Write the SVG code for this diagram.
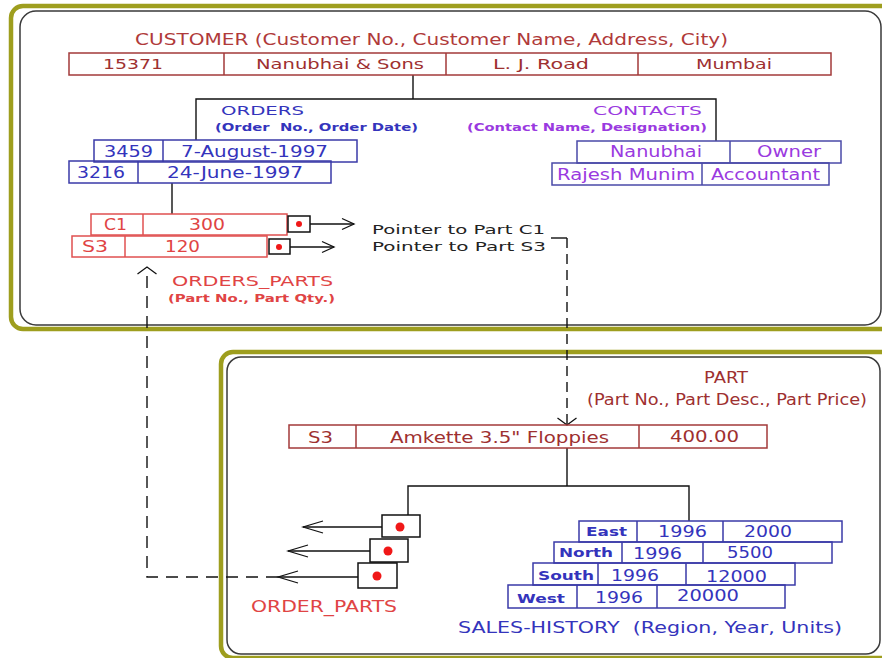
<svg xmlns="http://www.w3.org/2000/svg" width="882" height="658" viewBox="0 0 882 658">
  <style>
    text { font-family: "DejaVu Sans", Verdana, sans-serif; white-space: pre; }
    .olive { fill: none; stroke: #9e9e1e; stroke-width: 4.5; }
    .frame { fill: none; stroke: #3a3a3a; stroke-width: 1.5; }
    .cell { fill: none; stroke-width: 1.5; }
    .brown { stroke: #a33a3a; }
    .blue { stroke: #3a3aa8; }
    .violet { stroke: #4a4aa8; }
    .red { stroke: #e05050; }
    .ptr { fill: #fff; stroke: #111; stroke-width: 1.5; }
    .dot { fill: #f01818; }
    .line { fill: none; stroke: #111; stroke-width: 1.4; }
    .dash1 { stroke-dasharray: 10 6; }
    .dash2 { stroke-dasharray: 12 8; }
    .t-brown { fill: #9e3030; }
    .t-title { fill: #b03a3a; }
    .t-blue { fill: #3434bc; }
    .t-violet { fill: #9a3ae0; }
    .t-red { fill: #e04444; }
    .t-black { fill: #222; }
    .b { font-weight: bold; }
  </style>
  <defs>
    <marker id="arrPtr" markerUnits="userSpaceOnUse" viewBox="-13 -7 15 14" markerWidth="15" markerHeight="14" refX="0" refY="0" orient="auto">
      <path d="M-12,-5.5 L0,0 L-12,5.5" fill="none" stroke="#111" stroke-width="1.3"/>
    </marker>
    <marker id="arrLong" markerUnits="userSpaceOnUse" viewBox="-21 -7 23 14" markerWidth="23" markerHeight="14" refX="0" refY="0" orient="auto">
      <path d="M-20,-6 L0,0 L-20,6" fill="none" stroke="#111" stroke-width="1.3"/>
    </marker>
    <marker id="arrWide" markerUnits="userSpaceOnUse" viewBox="-9 -11 11 22" markerWidth="11" markerHeight="22" refX="0" refY="0" orient="auto">
      <path d="M-7,-9.5 L0,0 L-7,9.5" fill="none" stroke="#111" stroke-width="1.3"/>
    </marker>
  </defs>

  <rect width="882" height="658" fill="#fff"/>

  <!-- panel frames -->
  <g id="panels">
    <rect class="olive" x="11" y="6" width="920" height="323" rx="12"/>
    <rect class="frame" x="20" y="11" width="861" height="314" rx="16"/>
    <rect class="olive" x="221" y="352" width="700" height="306" rx="12"/>
    <rect class="frame" x="227" y="357" width="653" height="297" rx="14"/>
  </g>

  <!-- connectors -->
  <g id="connectors">
    <path class="line" d="M413,75 V99 M196,140 V99 H716 V141"/>
    <path class="line" d="M172,183 V214"/>
    <path class="line" d="M310,224 H354" marker-end="url(#arrPtr)"/>
    <path class="line" d="M290,247 H334" marker-end="url(#arrPtr)"/>
    <path class="line" d="M551,238 H567"/>
    <path class="line dash1" d="M567,238 V425" marker-end="url(#arrWide)"/>
    <path class="line" d="M567,448 V486 M408,515 V486 H689 V521"/>
    <path class="line" d="M382,527 H303" marker-end="url(#arrLong)"/>
    <path class="line" d="M370,551 H288" marker-end="url(#arrLong)"/>
    <path class="line" d="M358,577 H278" marker-end="url(#arrLong)"/>
    <path class="line dash2" d="M278,577 H147 V267" marker-end="url(#arrWide)"/>
  </g>

  <!-- CUSTOMER record -->
  <g id="customer">
    <text class="t-title" x="135" y="45" font-size="15" textLength="593" lengthAdjust="spacingAndGlyphs">CUSTOMER (Customer No., Customer Name, Address, City)</text>
    <rect class="cell brown" x="69" y="53" width="762" height="22"/>
    <path class="cell brown" d="M224,53 V75 M446,53 V75 M638,53 V75"/>
    <g class="t-brown" font-size="14">
      <text x="103" y="69" textLength="60" lengthAdjust="spacingAndGlyphs">15371</text>
      <text x="256" y="69" textLength="168" lengthAdjust="spacingAndGlyphs">Nanubhai &amp; Sons</text>
      <text x="493" y="69" textLength="96" lengthAdjust="spacingAndGlyphs">L. J. Road</text>
      <text x="696" y="69" textLength="76" lengthAdjust="spacingAndGlyphs">Mumbai</text>
    </g>
  </g>

  <!-- ORDERS records -->
  <g id="orders">
    <text class="t-blue" x="221" y="115" font-size="13" textLength="83" lengthAdjust="spacingAndGlyphs">ORDERS</text>
    <text class="t-blue b" x="215" y="131" font-size="11" textLength="203" lengthAdjust="spacingAndGlyphs">(Order  No., Order Date)</text>
    <rect class="cell blue" x="94" y="140" width="263" height="22" fill="#fff"/>
    <path class="cell blue" d="M163,140 V162"/>
    <rect class="cell blue" x="69" y="161" width="262" height="22" fill="#fff"/>
    <path class="cell blue" d="M138,161 V183"/>
    <g class="t-blue" font-size="15">
      <text x="104" y="157" textLength="49" lengthAdjust="spacingAndGlyphs">3459</text>
      <text x="181" y="157" textLength="147" lengthAdjust="spacingAndGlyphs">7-August-1997</text>
      <text x="77" y="178" textLength="48" lengthAdjust="spacingAndGlyphs">3216</text>
      <text x="167" y="178" textLength="136" lengthAdjust="spacingAndGlyphs">24-June-1997</text>
    </g>
  </g>

  <!-- CONTACTS records -->
  <g id="contacts">
    <text class="t-violet" x="593" y="115" font-size="13" textLength="109" lengthAdjust="spacingAndGlyphs">CONTACTS</text>
    <text class="t-violet b" x="467" y="131" font-size="11" textLength="240" lengthAdjust="spacingAndGlyphs">(Contact Name, Designation)</text>
    <rect class="cell violet" x="577" y="141" width="264" height="22" fill="#fff"/>
    <path class="cell violet" d="M730,141 V163"/>
    <rect class="cell violet" x="552" y="163" width="277" height="22" fill="#fff"/>
    <path class="cell violet" d="M702,163 V185"/>
    <g class="t-violet" font-size="15">
      <text x="610" y="157" textLength="92" lengthAdjust="spacingAndGlyphs">Nanubhai</text>
      <text x="757" y="157" textLength="64" lengthAdjust="spacingAndGlyphs">Owner</text>
      <text x="557" y="180" textLength="138" lengthAdjust="spacingAndGlyphs">Rajesh Munim</text>
      <text x="711" y="180" textLength="109" lengthAdjust="spacingAndGlyphs">Accountant</text>
    </g>
  </g>

  <!-- ORDERS_PARTS records with part pointers -->
  <g id="orders-parts">
    <rect class="cell red" x="91" y="214" width="196" height="21" fill="#fff"/>
    <path class="cell red" d="M143,214 V235"/>
    <rect class="cell red" x="72" y="236" width="195" height="21" fill="#fff"/>
    <path class="cell red" d="M125,236 V257"/>
    <g class="t-red" font-size="15">
      <text x="104" y="230" textLength="23" lengthAdjust="spacingAndGlyphs">C1</text>
      <text x="189" y="230" textLength="36" lengthAdjust="spacingAndGlyphs">300</text>
      <text x="82" y="252" textLength="26" lengthAdjust="spacingAndGlyphs">S3</text>
      <text x="165" y="252" textLength="35" lengthAdjust="spacingAndGlyphs">120</text>
    </g>
    <rect class="ptr" x="288" y="216" width="22" height="16"/>
    <circle class="dot" cx="299" cy="224" r="3"/>
    <rect class="ptr" x="269" y="239" width="21" height="15"/>
    <circle class="dot" cx="279" cy="247" r="3"/>
    <text class="t-red" x="172" y="286" font-size="14" textLength="161" lengthAdjust="spacingAndGlyphs">ORDERS_PARTS</text>
    <text class="t-red b" x="168" y="302" font-size="11" textLength="167" lengthAdjust="spacingAndGlyphs">(Part No., Part Qty.)</text>
  </g>

  <g id="pointer-labels" class="t-black" font-size="13">
    <text x="372" y="234" textLength="173" lengthAdjust="spacingAndGlyphs">Pointer to Part C1</text>
    <text x="372" y="251" textLength="174" lengthAdjust="spacingAndGlyphs">Pointer to Part S3</text>
  </g>

  <!-- PART record -->
  <g id="part">
    <text class="t-brown" x="704" y="383" font-size="15" textLength="44" lengthAdjust="spacingAndGlyphs">PART</text>
    <text class="t-brown" x="587" y="405" font-size="15" textLength="280" lengthAdjust="spacingAndGlyphs">(Part No., Part Desc., Part Price)</text>
    <rect class="cell brown" x="289" y="425" width="478" height="23"/>
    <path class="cell brown" d="M356,425 V448 M639,425 V448"/>
    <g class="t-brown" font-size="16">
      <text x="308" y="443" textLength="25" lengthAdjust="spacingAndGlyphs">S3</text>
      <text x="390" y="443" textLength="219" lengthAdjust="spacingAndGlyphs">Amkette 3.5" Floppies</text>
      <text x="670" y="442" textLength="69" lengthAdjust="spacingAndGlyphs">400.00</text>
    </g>
  </g>

  <!-- ORDER_PARTS pointer stack -->
  <g id="order-parts">
    <rect class="ptr" x="382" y="515" width="38" height="22"/>
    <circle class="dot" cx="400" cy="527" r="4.5"/>
    <rect class="ptr" x="370" y="539" width="38" height="23"/>
    <circle class="dot" cx="388" cy="551" r="4.5"/>
    <rect class="ptr" x="358" y="563" width="39" height="25"/>
    <circle class="dot" cx="377" cy="576" r="4.5"/>
    <text class="t-red" x="251" y="612" font-size="15" textLength="146" lengthAdjust="spacingAndGlyphs">ORDER_PARTS</text>
  </g>

  <!-- SALES-HISTORY records -->
  <g id="sales-history">
    <rect class="cell blue" x="579" y="521" width="263" height="21" fill="#fff"/>
    <path class="cell blue" d="M637,521 V542 M723,521 V542"/>
    <rect class="cell blue" x="554" y="542" width="278" height="21" fill="#fff"/>
    <path class="cell blue" d="M622,542 V563 M703,542 V563"/>
    <rect class="cell blue" x="533" y="563" width="262" height="22" fill="#fff"/>
    <path class="cell blue" d="M598,563 V585 M686,563 V585"/>
    <rect class="cell blue" x="508" y="585" width="277" height="23" fill="#fff"/>
    <path class="cell blue" d="M577,585 V608 M657,585 V608"/>
    <g class="t-blue b" font-size="12">
      <text x="586" y="536" textLength="41" lengthAdjust="spacingAndGlyphs">East</text>
      <text x="559" y="557" textLength="54" lengthAdjust="spacingAndGlyphs">North</text>
      <text x="538" y="580" textLength="56" lengthAdjust="spacingAndGlyphs">South</text>
      <text x="517" y="603" textLength="48" lengthAdjust="spacingAndGlyphs">West</text>
    </g>
    <g class="t-blue" font-size="15">
      <text x="658" y="537" textLength="49" lengthAdjust="spacingAndGlyphs">1996</text>
      <text x="744" y="537" textLength="48" lengthAdjust="spacingAndGlyphs">2000</text>
      <text x="633" y="559" textLength="49" lengthAdjust="spacingAndGlyphs">1996</text>
      <text x="727" y="558" textLength="46" lengthAdjust="spacingAndGlyphs">5500</text>
      <text x="611" y="581" textLength="48" lengthAdjust="spacingAndGlyphs">1996</text>
      <text x="706" y="582" textLength="61" lengthAdjust="spacingAndGlyphs">12000</text>
      <text x="595" y="603" textLength="48" lengthAdjust="spacingAndGlyphs">1996</text>
      <text x="677" y="601" textLength="62" lengthAdjust="spacingAndGlyphs">20000</text>
    </g>
    <text class="t-blue" x="458" y="633" font-size="16" textLength="384" lengthAdjust="spacingAndGlyphs">SALES-HISTORY  (Region, Year, Units)</text>
  </g>
</svg>
